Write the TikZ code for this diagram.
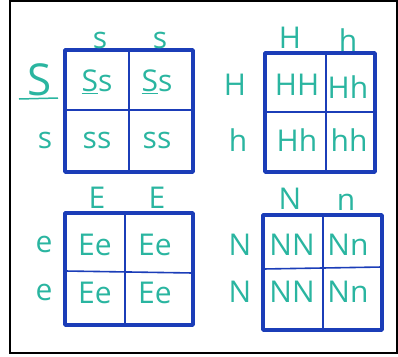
\documentclass[tikz,border=0pt]{standalone}
\usepackage{fontspec}
\setmainfont{Open Sans}
\usepackage{tikz}
\usetikzlibrary{positioning}
\definecolor{marker}{HTML}{1B3DB8}
\definecolor{ink}{HTML}{2AB5A0}

\begin{document}
\begin{tikzpicture}[x=1pt,y=-1pt,
  outer/.style={marker,line width=3.5pt,line join=round},
  inner/.style={marker,line width=1.6pt},
  allele/.style={ink,font=\fontsize{30}{32}\selectfont,inner sep=0pt},
  bigallele/.style={ink,font=\fontsize{44}{46}\selectfont,inner sep=0pt}]
\useasboundingbox (0,0) rectangle (398,356);
\draw[line width=2pt] (10,1) rectangle (397,353);

% S square
\draw[outer] (65,50) rectangle (193,172);
\draw[inner] (129,50) -- (129,172);
\draw[inner] (65,110) -- (193,110);
\node[allele] (s1) at (100,40) {s};
\node[allele] (s2) at (160,40) {s};
\node[bigallele] (S) at (40,80) {S};
\draw[ink,line width=1.5pt] (19,99) -- (58,98);
\node[allele] (s3) at (45,140) {s};
\foreach \x [count=\i] in {97,157} {
  \node[allele] (Ss\i) at (\x,82) {\underline{S}s};
  \node[allele] (ss\i) at (\x,140) {ss};
}

% H square
\draw[outer] (265,53) rectangle (375,172);
\draw[inner] (326,53) -- (326,172);
\draw[inner] (265,112) -- (375,112);
\node[allele] (H1) at (290,38) {H};
\node[allele] (h1) at (348,40) {h};
\node[allele] (H2) at (235,85) {H};
\node[allele] (h2) at (238,140) {h};
\node[allele] (HH) at (297,85) {HH};
\node[allele] (Hh1) at (348,87) {Hh};
\node[allele] (Hh2) at (297,140) {Hh};
\node[allele] (hh) at (349,140) {hh};

% E square
\draw[outer] (65,213) rectangle (193,325);
\draw[inner] (125,213) -- (125,325);
\draw[inner] (65,271) -- (193,273);
\node[allele] (E1) at (97,198) {E};
\node[allele] (E2) at (157,198) {E};
\node[allele] (e1) at (44,244) {e};
\node[allele] (e2) at (44,292) {e};
\foreach \x [count=\i] in {95,155} {
  \node[allele] (Ee\i) at (\x,245) {Ee};
  \node[allele] (Ef\i) at (\x,293) {Ee};
}

% N square
\draw[outer] (263,215) rectangle (382,330);
\draw[inner] (323,215) -- (323,330);
\draw[inner] (263,269) -- (382,267);
\node[allele] (N1) at (290,199) {N};
\node[allele] (n1) at (346,202) {n};
\node[allele] (N2) at (240,245) {N};
\node[allele] (N3) at (240,292) {N};
\foreach \y [count=\i] in {245,292} {
  \node[allele] (NN\i) at (292,\y) {NN};
  \node[allele] (Nn\i) at (348,\y) {Nn};
}
\end{tikzpicture}
\end{document}
